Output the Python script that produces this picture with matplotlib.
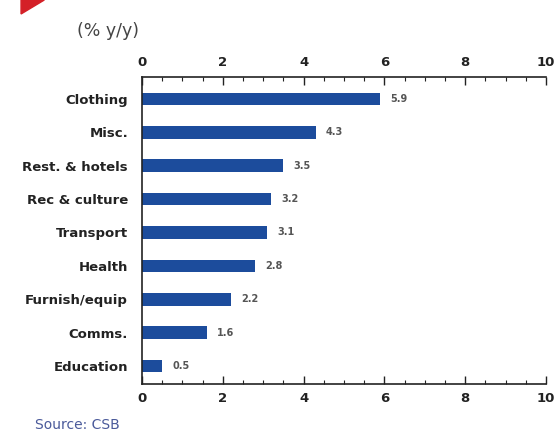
import numpy as np
import matplotlib.pyplot as plt
from matplotlib.patches import Polygon
from matplotlib.ticker import MultipleLocator

categories = ["Clothing", "Misc.", "Rest. & hotels", "Rec & culture", "Transport",
              "Health", "Furnish/equip", "Comms.", "Education"]
values = [5.9, 4.3, 3.5, 3.2, 3.1, 2.8, 2.2, 1.6, 0.5]
xticks = [0, 2, 4, 6, 8, 10]

bar_color = "#1c4c9c"

fig = plt.figure(figsize=(5.54, 4.37), dpi=100)
fig.patch.set_facecolor("white")
ax = fig.add_axes([0.2563, 0.1213, 0.7293, 0.7025])

y = np.arange(len(categories))
ax.barh(y, values, height=0.38, color=bar_color)
for yi, v in zip(y, values):
    ax.text(v + 0.25, yi, f"{v:.1f}", va="center", ha="left",
            fontsize=7, fontweight="bold", color="#555555")

ax.set_xlim(0, 10)
ax.set_ylim(len(categories) - 0.46, -0.66)
ax.set_yticks(y)
ax.set_yticklabels(categories, fontsize=9.5, fontweight="bold", color="#222222")
ax.tick_params(axis="y", length=0, pad=10)

ax.set_xticks(xticks)
ax.xaxis.set_minor_locator(MultipleLocator(0.5))
ax.tick_params(axis="x", which="both", direction="in", top=True, bottom=True,
               labeltop=True, labelbottom=True, labelsize=9.5, pad=6, colors="#222222")
ax.tick_params(axis="x", which="major", length=6, width=1)
ax.tick_params(axis="x", which="minor", length=3, width=0.8)
for lab in ax.get_xticklabels():
    lab.set_fontweight("bold")

ax.spines["right"].set_visible(False)
for s in ["left", "top", "bottom"]:
    ax.spines[s].set_linewidth(1.2)
    ax.spines[s].set_color("#222222")

fig.text(0.139, 0.93, "(% y/y)", fontsize=12.5, color="#444444", va="center")
fig.text(0.063, 0.012, "Source: CSB", fontsize=10, color="#4a5a9a", va="bottom")

# red corner mark, top left
tri = Polygon([[0.038, 1.0], [0.080, 1.0], [0.038, 0.968]], closed=True,
              transform=fig.transFigure, color="#d42027")
fig.patches.append(tri)

fig.savefig("out.png", dpi=100)
